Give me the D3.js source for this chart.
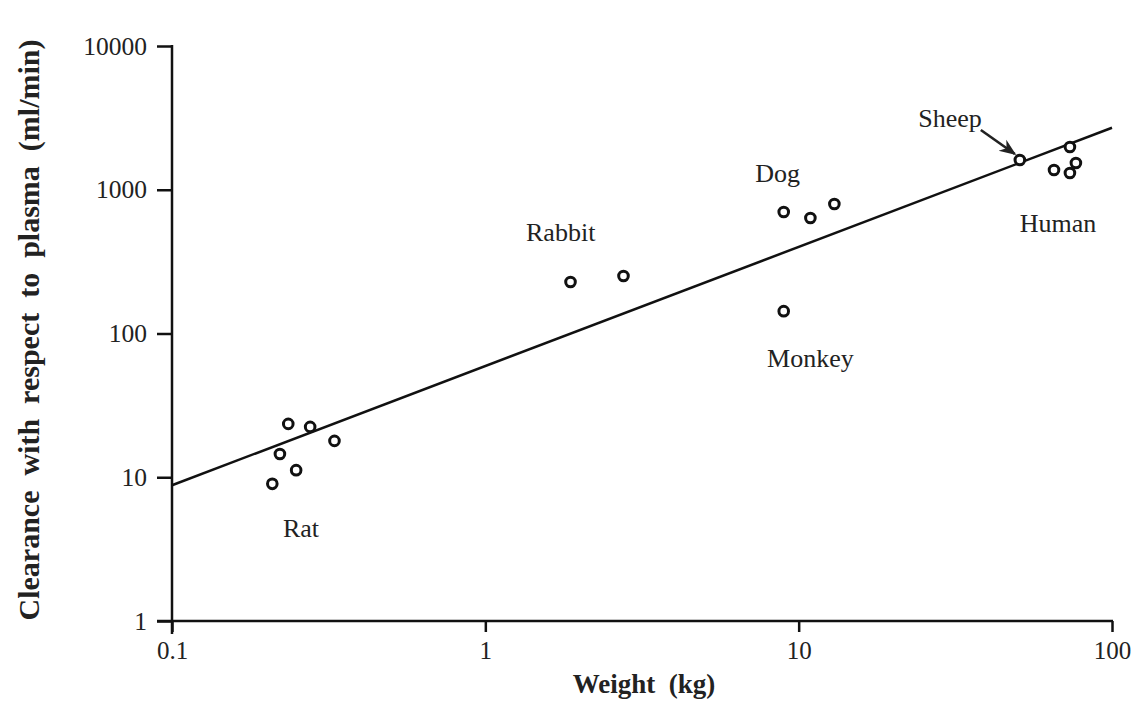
<!DOCTYPE html>
<html>
<head>
<meta charset="utf-8">
<script src="https://cdn.jsdelivr.net/npm/d3@7"></script>
<style>
  body { margin: 0; background: #fff; }
  text { font-family: "Liberation Serif", "DejaVu Serif", serif; fill: #222; }
</style>
</head>
<body>
<script>
// weight (kg) and clearance (ml/min)
var ratW = [0.235, 0.276, 0.33, 0.221, 0.249, 0.209];
var ratC = [23.5, 22.4, 17.9, 14.5, 11.2, 9.0];
var rabbitW = [1.87, 2.76];
var rabbitC = [228, 251];
var dogW = [8.96, 10.9, 13.0];
var dogC = [700, 636, 796];
var monkeyW = [8.96];
var monkeyC = [143];
var sheepW = [50.8];
var sheepC = [1610];
var humanW = [73.4, 76.7, 65.3, 73.4];
var humanC = [1983, 1535, 1372, 1308];

// fitted line end points
var fitW = [0.1, 100];
var fitC = [8.8, 2700];

var xTicks = [0.1, 1, 10, 100];
var yTicks = [1, 10, 100, 1000, 10000];

// label text and anchor in data units
var labels = ['Rat', 'Rabbit', 'Dog', 'Monkey', 'Sheep', 'Human'];
var labelW = [0.258, 1.74, 8.57, 10.9, 30.4, 67.2];
var labelC = [3.84, 440, 1132, 58.5, 2733, 508];

var w = 1143, h = 701;
var x = d3.scaleLog().domain([0.1, 100]).range([172, 1112]);
var y = d3.scaleLog().domain([1, 10000]).range([621, 46]);

var svg = d3.select('body').append('svg')
  .attr('width', w).attr('height', h);

svg.append('rect').attr('width', w).attr('height', h).attr('fill', 'white');

// axes
var xAxis = d3.axisBottom(x).tickValues(xTicks)
  .tickFormat(function(d){ return d3.format('')(d); })
  .tickSize(11).tickPadding(9);
var gx = svg.append('g').attr('transform', 'translate(0,621)').call(xAxis);
gx.select('.domain').remove();
gx.append('line').attr('x1', 157).attr('x2', 1113).attr('y1', 0).attr('y2', 0)
  .attr('stroke', '#111').attr('stroke-width', 2.5);
gx.selectAll('.tick line').attr('stroke', '#111').attr('stroke-width', 2.5);
gx.selectAll('.tick text').style('font-size', '25px').attr('fill', '#222')
  .style('font-family', '"Liberation Serif", serif');

var yAxis = d3.axisLeft(y).tickValues(yTicks)
  .tickFormat(function(d){ return d3.format('')(d); })
  .tickSize(15).tickPadding(10);
var gy = svg.append('g').attr('transform', 'translate(172,0)').call(yAxis);
gy.select('.domain').remove();
gy.append('line').attr('x1', 0).attr('x2', 0).attr('y1', 45).attr('y2', 634)
  .attr('stroke', '#111').attr('stroke-width', 2.5);
gy.selectAll('.tick line').attr('stroke', '#111').attr('stroke-width', 2.5);
gy.selectAll('.tick text').style('font-size', '25.5px').attr('fill', '#222')
  .style('font-family', '"Liberation Serif", serif');

// titles
svg.append('text')
  .attr('x', 644).attr('y', 693)
  .attr('text-anchor', 'middle')
  .style('font-size', '27px').style('font-weight', 'bold')
  .style('white-space', 'pre')
  .text('Weight  (kg)');

svg.append('text')
  .attr('transform', 'translate(39,330) rotate(-90)')
  .attr('text-anchor', 'middle')
  .style('font-size', '30px').style('font-weight', 'bold')
  .style('white-space', 'pre')
  .text('Clearance  with  respect  to  plasma  (ml/min)');

// regression line
var line = d3.line()
  .x(function(d){ return x(d[0]); })
  .y(function(d){ return y(d[1]); });
svg.append('path')
  .datum(d3.zip(fitW, fitC))
  .attr('d', line)
  .attr('fill', 'none')
  .attr('stroke', '#111')
  .attr('stroke-width', 2.5);

// points
var pts = [].concat(
  d3.zip(ratW, ratC), d3.zip(rabbitW, rabbitC), d3.zip(dogW, dogC),
  d3.zip(monkeyW, monkeyC), d3.zip(sheepW, sheepC), d3.zip(humanW, humanC));

svg.selectAll('circle.pt')
  .data(pts)
  .enter()
  .append('circle')
  .attr('class', 'pt')
  .attr('cx', function(d){ return x(d[0]); })
  .attr('cy', function(d){ return y(d[1]); })
  .attr('r', 4.8)
  .attr('fill', 'white')
  .attr('stroke', '#111')
  .attr('stroke-width', 3);

// species labels
svg.selectAll('text.lab')
  .data(d3.zip(labels, labelW, labelC))
  .enter()
  .append('text')
  .attr('class', 'lab')
  .attr('x', function(d){ return x(d[1]); })
  .attr('y', function(d){ return y(d[2]); })
  .attr('text-anchor', 'middle')
  .style('font-size', '26px')
  .text(function(d){ return d[0]; });

// arrow from Sheep label to its point
svg.append('defs').append('marker')
  .attr('id', 'head')
  .attr('viewBox', '0 0 10 10')
  .attr('refX', 9).attr('refY', 5)
  .attr('markerWidth', 6.5).attr('markerHeight', 6.5)
  .attr('orient', 'auto')
  .append('path').attr('d', 'M0,1 L10,5 L0,9 L3,5 Z').attr('fill', '#222');

svg.append('line')
  .attr('x1', x(sheepW[0]) - 39).attr('y1', y(sheepC[0]) - 30)
  .attr('x2', x(sheepW[0]) - 5).attr('y2', y(sheepC[0]) - 6)
  .attr('stroke', '#222').attr('stroke-width', 2.6)
  .attr('marker-end', 'url(#head)');
</script>
</body>
</html>
